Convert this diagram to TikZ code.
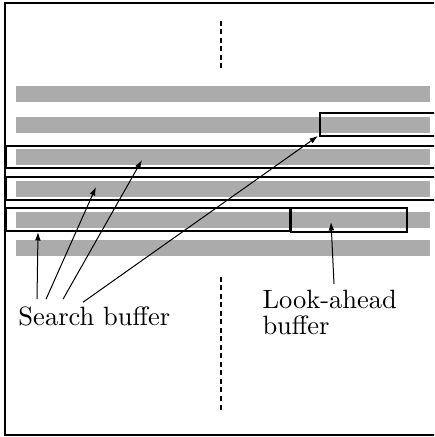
\documentclass[tikz,border=0pt]{standalone}
\usepackage{tikz}
\usetikzlibrary{arrows, arrows.meta, positioning}
\tikzstyle{bar} = [fill=black!33, draw=none]
\tikzstyle{window} = [draw=black, line width=0.5pt]
\tikzstyle{label} = [inner sep=0pt, font=\fontsize{10.6}{10.5}\selectfont, align=left]
\tikzstyle{arrow} = [thin,-{Latex[length=3.4pt,width=2.3pt]}]
\tikzstyle{divider} = [line width=0.5pt, dash pattern=on 2pt off 1.4pt]

\begin{document}
\begin{tikzpicture}[x=0.4pt, y=0.4pt]
        \clip (0,0) rectangle (434,437);

        % --- Marco ---
        \draw[line width=0.5pt] (460,434) -- (5,434) -- (5,2) -- (460,2);

        % --- Barras ---
        \foreach \yb/\h in {335/16, 304/16, 272/16, 240/16, 209/16, 181/16}
            \fill[bar] (16,\yb) rectangle (430,\yb+\h);

        % --- Ventanas ---
        \draw[window] (320,301) rectangle (450,324);
        \draw[window] (6,269) rectangle (450,291);
        \draw[window] (6,237) rectangle (450,260);
        \draw[window] (6,206) rectangle (290,229);
        \draw[window] (291,205) rectangle (407,229);

        % --- Divisores ---
        \draw[divider] (221,416) -- (221,369);
        \draw[divider] (221,160) -- (221,27);

        % --- Textos ---
        \node (search) [label, anchor=base west] at (18,111) {Search buffer};
        \node (look) [label, anchor=north west] at (262,147.7) {Look-ahead\\buffer};

        % --- Puntas ---
        \coordinate (tip1) at (38,205);
        \coordinate (tip2) at (96,250);
        \coordinate (tip3) at (142,277);
        \coordinate (tip4) at (318,301);
        \coordinate (tip5) at (331,215);

        % --- Conexiones ---
        \draw [arrow] ([shift={(19,7.6)}]search.north west) -- (tip1);
        \draw [arrow] ([shift={(28,7.6)}]search.north west) -- (tip2);
        \draw [arrow] ([shift={(45,7.6)}]search.north west) -- (tip3);
        \draw [arrow] ([shift={(65,4.6)}]search.north west) -- (tip4);
        \draw [arrow] ([shift={(72,5.3)}]look.north west) -- (tip5);

    \end{tikzpicture}
\end{document}
